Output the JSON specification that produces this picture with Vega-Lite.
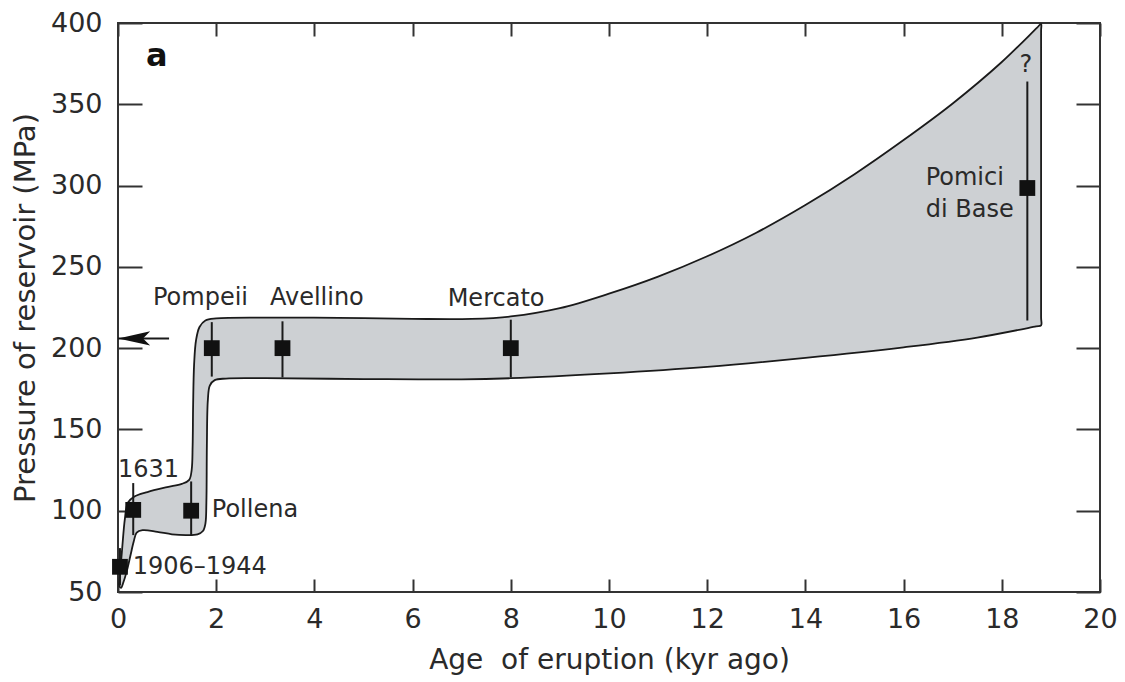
{
  "$schema": "https://vega.github.io/schema/vega-lite/v6.json",
  "width": 982,
  "height": 569,
  "autosize": {"type": "none"},
  "padding": {"left": 118, "top": 23, "right": 25, "bottom": 90},
  "background": "white",
  "config": {
    "view": {"stroke": "#333333", "strokeWidth": 2},
    "font": "DejaVu Sans",
    "axis": {"domain": false, "grid": false, "tickColor": "#333333", "tickWidth": 2, "labelFont": "DejaVu Sans", "labelColor": "#2a2a2a", "titleFont": "DejaVu Sans", "titleColor": "#2a2a2a", "titleFontWeight": "normal", "labelFlush": false, "labelOverlap": false}
  },
  "datasets": {
    "envelope": [
      {"o": 1, "age": 0.02, "p": 54},
      {"o": 2, "age": 0.08, "p": 75},
      {"o": 3, "age": 0.14, "p": 95},
      {"o": 4, "age": 0.2, "p": 105},
      {"o": 5, "age": 0.32, "p": 108.5},
      {"o": 6, "age": 0.6, "p": 111.5},
      {"o": 7, "age": 1.0, "p": 114.5},
      {"o": 8, "age": 1.3, "p": 116.5},
      {"o": 9, "age": 1.45, "p": 119},
      {"o": 10, "age": 1.5, "p": 125},
      {"o": 11, "age": 1.52, "p": 140},
      {"o": 12, "age": 1.53, "p": 165},
      {"o": 13, "age": 1.55, "p": 190},
      {"o": 14, "age": 1.59, "p": 205},
      {"o": 15, "age": 1.66, "p": 213},
      {"o": 16, "age": 1.78, "p": 217},
      {"o": 17, "age": 2.0, "p": 218.3},
      {"o": 18, "age": 3.0, "p": 218.8},
      {"o": 19, "age": 4.5, "p": 218.6},
      {"o": 20, "age": 6.0, "p": 218},
      {"o": 21, "age": 7.2, "p": 218},
      {"o": 22, "age": 8.0, "p": 219.5},
      {"o": 23, "age": 9.0, "p": 224.6},
      {"o": 24, "age": 10.0, "p": 233.5},
      {"o": 25, "age": 11.0, "p": 244},
      {"o": 26, "age": 12.0, "p": 256.5},
      {"o": 27, "age": 13.0, "p": 271},
      {"o": 28, "age": 14.0, "p": 288},
      {"o": 29, "age": 15.0, "p": 307},
      {"o": 30, "age": 16.0, "p": 328},
      {"o": 31, "age": 17.0, "p": 350.5},
      {"o": 32, "age": 18.0, "p": 376},
      {"o": 33, "age": 18.72, "p": 397.2},
      {"o": 34, "age": 18.8, "p": 399.5},
      {"o": 35, "age": 18.8, "p": 395},
      {"o": 36, "age": 18.8, "p": 300},
      {"o": 37, "age": 18.8, "p": 219},
      {"o": 38, "age": 18.8, "p": 214},
      {"o": 39, "age": 18.7, "p": 213.4},
      {"o": 40, "age": 17.5, "p": 206.5},
      {"o": 41, "age": 16, "p": 200.5},
      {"o": 42, "age": 14, "p": 194},
      {"o": 43, "age": 12, "p": 188.5},
      {"o": 44, "age": 10, "p": 184.5},
      {"o": 45, "age": 8, "p": 181.5},
      {"o": 46, "age": 7, "p": 180.8},
      {"o": 47, "age": 5, "p": 181},
      {"o": 48, "age": 3, "p": 181.5},
      {"o": 49, "age": 2.2, "p": 181.3},
      {"o": 50, "age": 1.97, "p": 180.3},
      {"o": 51, "age": 1.87, "p": 177},
      {"o": 52, "age": 1.83, "p": 168},
      {"o": 53, "age": 1.81, "p": 140},
      {"o": 54, "age": 1.8, "p": 105},
      {"o": 55, "age": 1.78, "p": 92},
      {"o": 56, "age": 1.73, "p": 87.5},
      {"o": 57, "age": 1.62, "p": 85.5},
      {"o": 58, "age": 1.4, "p": 85},
      {"o": 59, "age": 1.1, "p": 85.5},
      {"o": 60, "age": 0.8, "p": 87},
      {"o": 61, "age": 0.5, "p": 88},
      {"o": 62, "age": 0.38, "p": 86.5},
      {"o": 63, "age": 0.32, "p": 81},
      {"o": 64, "age": 0.25, "p": 72},
      {"o": 65, "age": 0.18, "p": 63},
      {"o": 66, "age": 0.11, "p": 56},
      {"o": 67, "age": 0.06, "p": 52.5},
      {"o": 68, "age": 0.02, "p": 54}
    ],
    "events": [
      {"event": "1906–1944", "age": 0.04, "p": 65.5, "lo": 54, "hi": 77},
      {"event": "1631", "age": 0.31, "p": 100.5, "lo": 85, "hi": 117},
      {"event": "Pollena", "age": 1.49, "p": 100, "lo": 84.5, "hi": 118},
      {"event": "Pompeii", "age": 1.91, "p": 200, "lo": 182.5, "hi": 216},
      {"event": "Avellino", "age": 3.35, "p": 200, "lo": 182, "hi": 216.5},
      {"event": "Mercato", "age": 8.0, "p": 200, "lo": 182, "hi": 217.5},
      {"event": "Pomici di Base", "age": 18.52, "p": 298.5, "lo": 217, "hi": 364}
    ]
  },
  "resolve": {"axis": {"x": "independent", "y": "independent"}},
  "layer": [
    {
      "data": {"name": "envelope"},
      "mark": {"type": "line", "fill": "#cdd0d3", "stroke": "#1a1a1a", "strokeWidth": 1.8, "interpolate": "catmull-rom", "strokeJoin": "round"},
      "encoding": {
        "x": {"field": "age", "type": "quantitative", "scale": {"domain": [0, 20], "nice": false, "zero": false}, "axis": {"orient": "top", "values": [0, 2, 4, 6, 8, 10, 12, 14, 16, 18, 20], "labels": false, "tickSize": -13, "title": null}},
        "y": {"field": "p", "type": "quantitative", "scale": {"domain": [50, 400], "nice": false, "zero": false}, "axis": {"orient": "right", "values": [50, 100, 150, 200, 250, 300, 350, 400], "labels": false, "tickSize": -24, "title": null}},
        "order": {"field": "o", "type": "quantitative"}
      }
    },
    {
      "data": {"name": "events"},
      "mark": {"type": "rule", "color": "#1a1a1a", "strokeWidth": 2},
      "encoding": {
        "x": {"field": "age", "type": "quantitative", "axis": null},
        "y": {"field": "lo", "type": "quantitative", "axis": null},
        "y2": {"field": "hi"}
      }
    },
    {
      "data": {"name": "events"},
      "mark": {"type": "point", "shape": "square", "filled": true, "color": "#111111", "size": 250, "opacity": 1, "strokeWidth": 0},
      "encoding": {
        "x": {"field": "age", "type": "quantitative", "title": "Age\u00a0 of eruption (kyr ago)", "axis": {"orient": "bottom", "values": [0, 2, 4, 6, 8, 10, 12, 14, 16, 18, 20], "tickSize": -13, "labelPadding": 27, "labelFontSize": 27, "titleFontSize": 28, "titlePadding": 14}},
        "y": {"field": "p", "type": "quantitative", "title": "Pressure of reservoir (MPa)", "axis": {"orient": "left", "values": [50, 100, 150, 200, 250, 300, 350, 400], "tickSize": -24, "labelPadding": 40, "labelFontSize": 27, "titleFontSize": 29, "titlePadding": 10}}
      }
    },
    {
      "data": {"values": [{"a0": 0, "a1": 1.04, "p": 206}]},
      "mark": {"type": "rule", "color": "#1a1a1a", "strokeWidth": 2},
      "encoding": {
        "x": {"field": "a0", "type": "quantitative", "axis": null},
        "x2": {"field": "a1"},
        "y": {"field": "p", "type": "quantitative", "axis": null}
      }
    },
    {
      "data": {"values": [{"age": 0.33, "p": 206}]},
      "mark": {"type": "point", "shape": "M -1 0 L 1 -0.45 L 0.55 0 L 1 0.45 Z", "size": 1024, "filled": true, "color": "#111111", "opacity": 1, "strokeWidth": 0},
      "encoding": {
        "x": {"field": "age", "type": "quantitative", "axis": null},
        "y": {"field": "p", "type": "quantitative", "axis": null}
      }
    },
    {
      "data": {"values": [
        {"label": "Pompeii", "age": 1.68, "p": 231},
        {"label": "Avellino", "age": 4.05, "p": 231},
        {"label": "Mercato", "age": 7.7, "p": 230},
        {"label": "1631", "age": 0.62, "p": 125},
        {"label": "?", "age": 18.49, "p": 374}
      ]},
      "mark": {"type": "text", "align": "center", "baseline": "middle", "fontSize": 24, "font": "DejaVu Sans", "color": "#2a2a2a"},
      "encoding": {
        "x": {"field": "age", "type": "quantitative", "axis": null},
        "y": {"field": "p", "type": "quantitative", "axis": null},
        "text": {"field": "label"}
      }
    },
    {
      "data": {"values": [
        {"label": "Pollena", "age": 1.91, "p": 100.5},
        {"label": "1906–1944", "age": 0.3, "p": 65.5},
        {"label": "Pomici", "age": 16.45, "p": 304.5},
        {"label": "di Base", "age": 16.45, "p": 285}
      ]},
      "mark": {"type": "text", "align": "left", "baseline": "middle", "fontSize": 24, "font": "DejaVu Sans", "color": "#2a2a2a"},
      "encoding": {
        "x": {"field": "age", "type": "quantitative", "axis": null},
        "y": {"field": "p", "type": "quantitative", "axis": null},
        "text": {"field": "label"}
      }
    },
    {
      "data": {"values": [{"label": "a", "age": 0.79, "p": 380}]},
      "mark": {"type": "text", "align": "center", "baseline": "middle", "fontSize": 32, "fontWeight": "bold", "font": "DejaVu Sans", "color": "#111111"},
      "encoding": {
        "x": {"field": "age", "type": "quantitative", "axis": null},
        "y": {"field": "p", "type": "quantitative", "axis": null},
        "text": {"field": "label"}
      }
    }
  ]
}
